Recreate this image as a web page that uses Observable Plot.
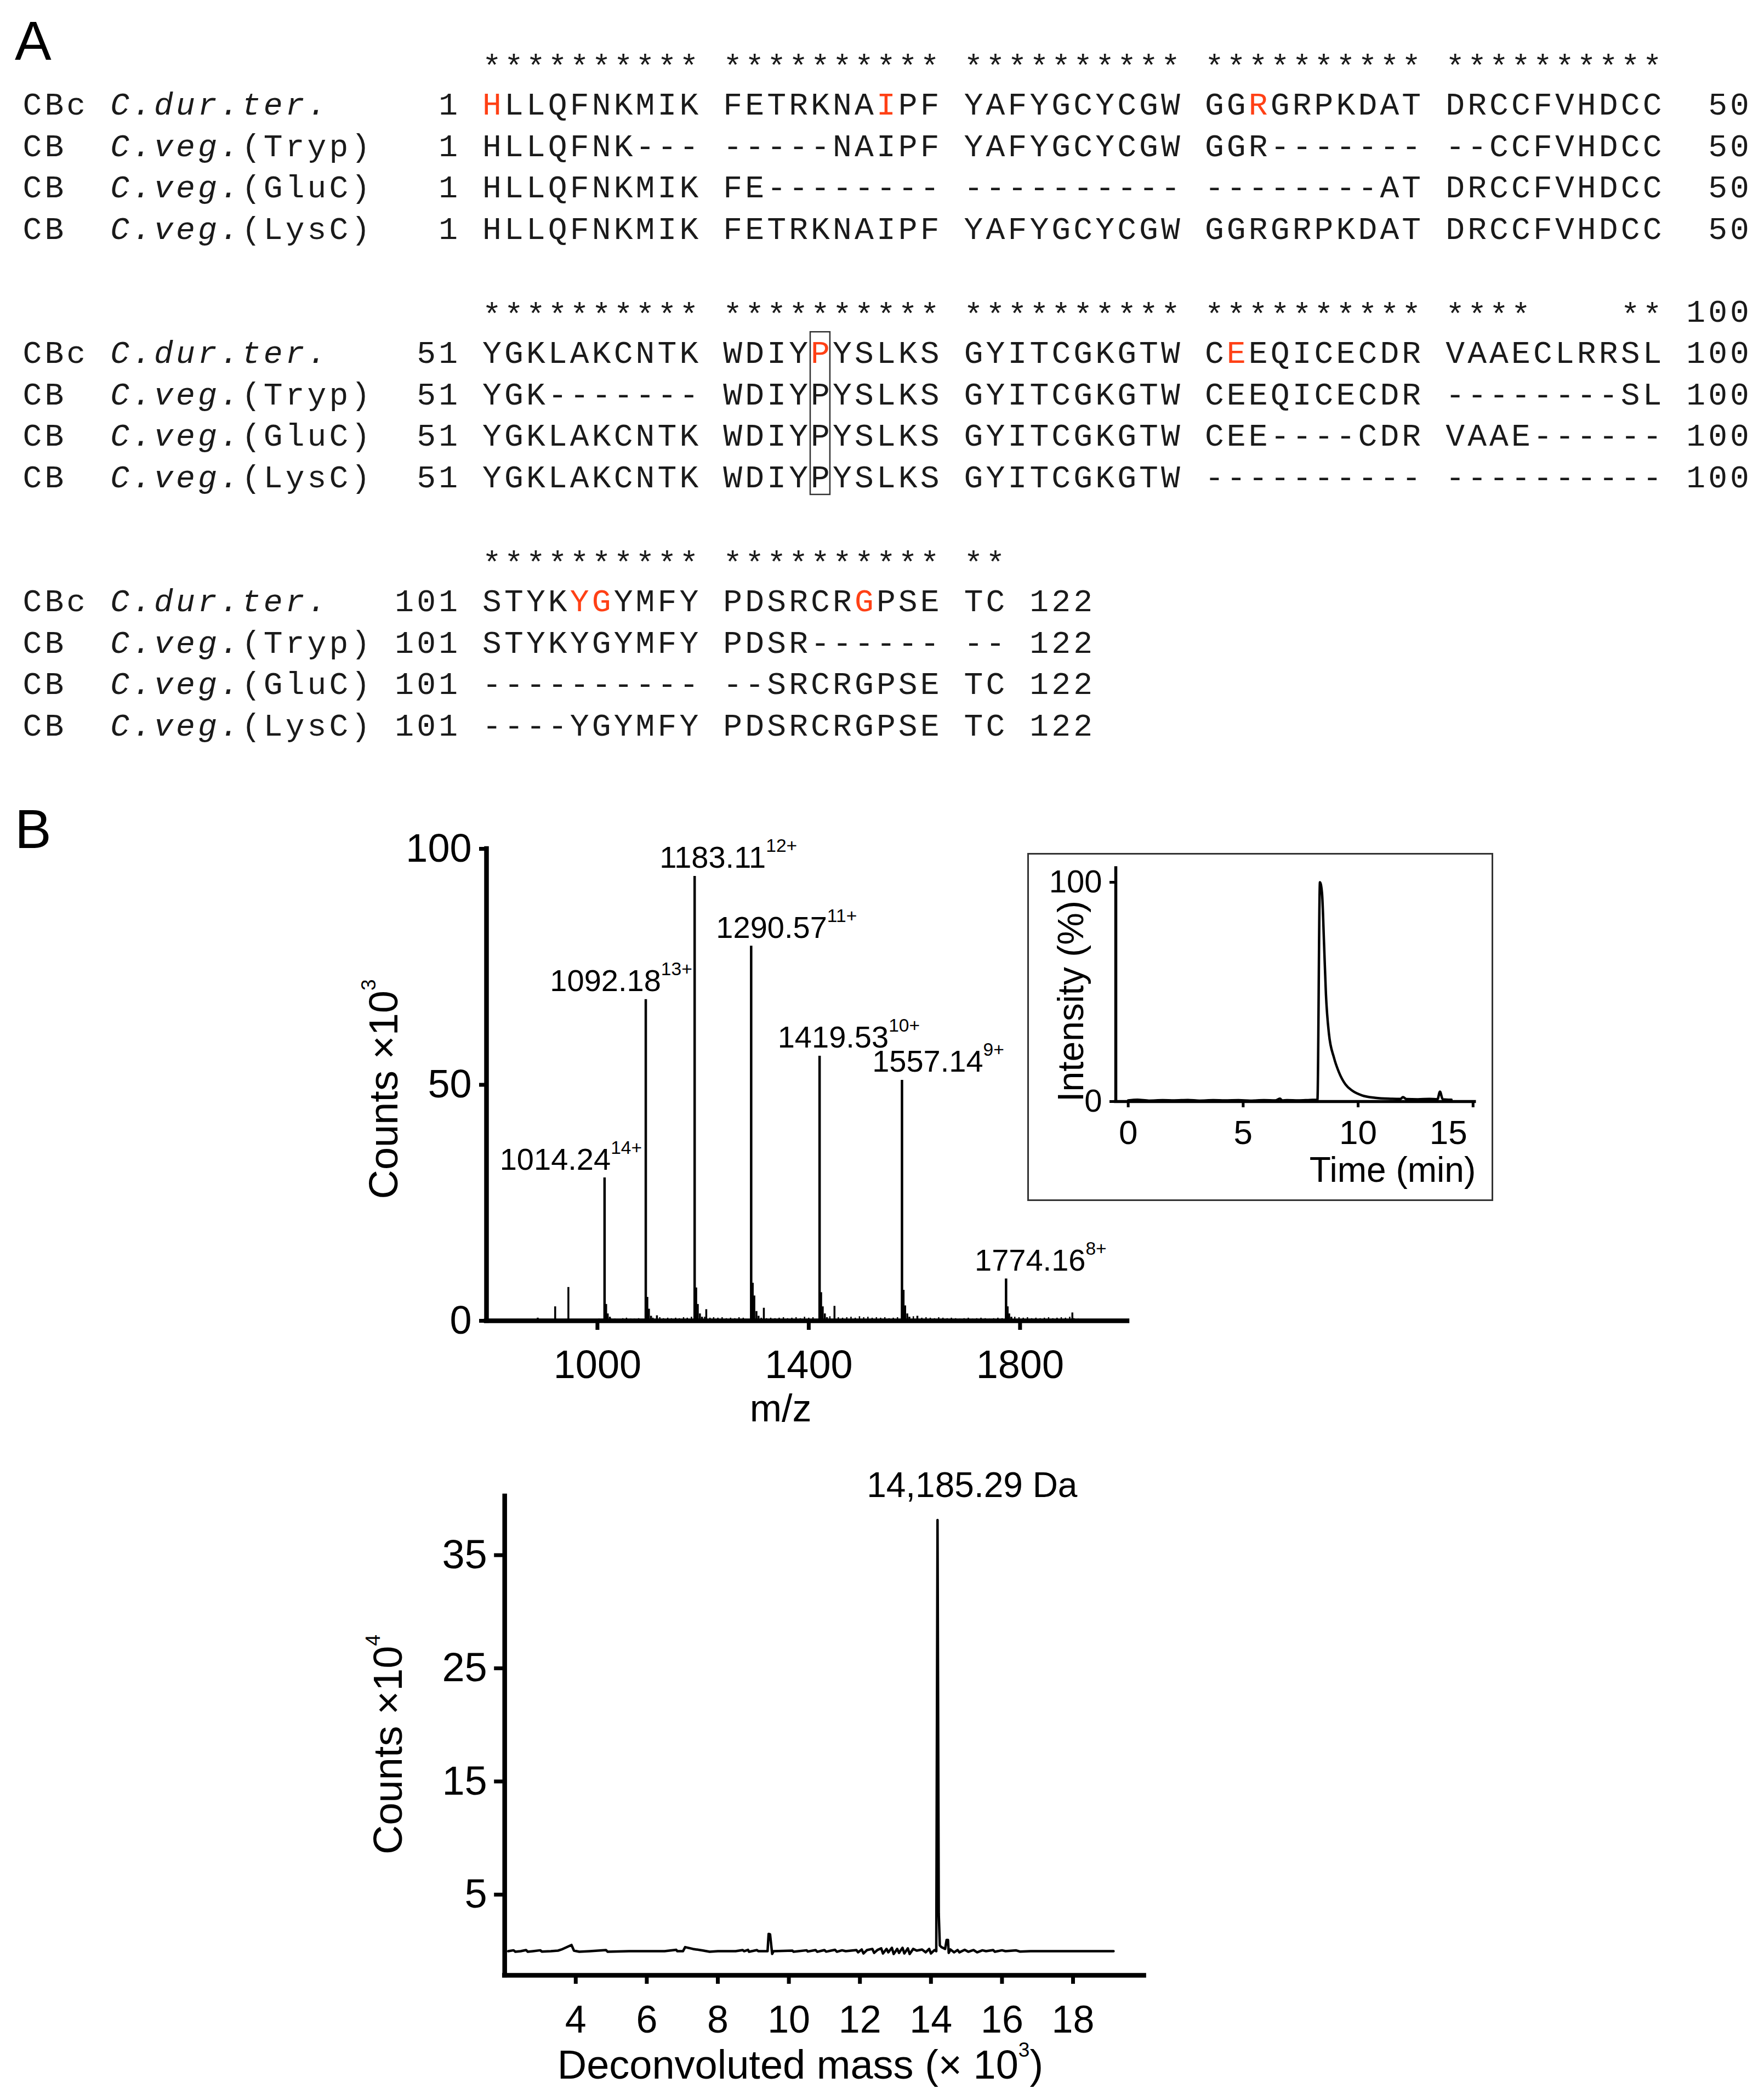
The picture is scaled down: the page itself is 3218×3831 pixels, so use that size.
<!DOCTYPE html>
<html>
<head>
<meta charset="utf-8">
<script src="https://cdn.jsdelivr.net/npm/d3@7"></script>
<script src="https://cdn.jsdelivr.net/npm/@observablehq/plot@0.6"></script>
<style>
html, body { margin: 0; padding: 0; background: #fff; }
#page { position: relative; width: 3218px; height: 3831px; background: #fff; overflow: hidden; }
.panel { position: absolute; }
.panel svg { display: block; overflow: visible; }
.tag { position: absolute; font-family: 'Liberation Sans', Arial, Helvetica, sans-serif; font-size: 100px; line-height: 100px; color: #000; }
.inset-box { position: absolute; box-sizing: border-box; border: 3px solid #333; pointer-events: none; }
</style>
</head>
<body>
<div id="page"></div>
<script>
// ================= DATA =================
// ---- Panel A: sequence alignment ----
const rowPrefix = ["CBc", "CB", "CB", "CB"];
const rowSpecies = ["C.dur.ter.", "C.veg.", "C.veg.", "C.veg."];
const rowEnzyme = ["", "(Tryp)", "(GluC)", "(LysC)"];
const blockStart = [1, 51, 101];
const blockEnd = [50, 100, 122];
const consensus = [
  "********** ********** ********** ********** **********",
  "********** ********** ********** ********** ****    **",
  "********** ********** **"
];
const consensusEnd = ["", "100", ""];
const blockSeqs = [
  ["HLLQFNKMIK FETRKNAIPF YAFYGCYCGW GGRGRPKDAT DRCCFVHDCC",
   "HLLQFNK--- -----NAIPF YAFYGCYCGW GGR------- --CCFVHDCC",
   "HLLQFNKMIK FE-------- ---------- --------AT DRCCFVHDCC",
   "HLLQFNKMIK FETRKNAIPF YAFYGCYCGW GGRGRPKDAT DRCCFVHDCC"],
  ["YGKLAKCNTK WDIYPYSLKS GYITCGKGTW CEEQICECDR VAAECLRRSL",
   "YGK------- WDIYPYSLKS GYITCGKGTW CEEQICECDR --------SL",
   "YGKLAKCNTK WDIYPYSLKS GYITCGKGTW CEE----CDR VAAE------",
   "YGKLAKCNTK WDIYPYSLKS GYITCGKGTW ---------- ----------"],
  ["STYKYGYMFY PDSRCRGPSE TC",
   "STYKYGYMFY PDSR------ --",
   "---------- --SRCRGPSE TC",
   "----YGYMFY PDSRCRGPSE TC"]
];
const redResidues = [1, 18, 33, 65, 82, 105, 106, 117];
const boxedResidue = 65;

// ---- Panel B top: ESI spectrum (m/z, counts x10^3) ----
const peakLabel = ["1014.24", "1092.18", "1183.11", "1290.57", "1419.53", "1557.14", "1774.16"];
const peakCharge = ["14+", "13+", "12+", "11+", "10+", "9+", "8+"];
const peakMz = [1013.5, 1091.5, 1184, 1291, 1420.5, 1576.5, 1773.5]; // drawn positions
const peakCounts = [30.3, 68.1, 94.2, 79.4, 56.1, 51.0, 8.9];
const minorMz = [887, 920, 945, 1016.5, 1019.5, 1023.5, 1094.5, 1097.5, 1101.5, 1112.6,
  1187, 1190, 1194, 1198, 1206, 1294, 1297, 1301, 1305, 1315,
  1423.5, 1426.5, 1430.5, 1434.5, 1448.7, 1579.5, 1582.5, 1586.5, 1590.5, 1605.6,
  1776.5, 1779.5, 1783.5, 1899];
const minorCounts = [0.6, 3.0, 7.1, 3.5, 1.5, 0.8, 5, 2.5, 1, 1.1,
  7, 3.5, 1.5, 0.8, 2.4, 8, 5.3, 2, 1, 2.7,
  6, 3, 1.5, 0.7, 3.1, 6.5, 3.2, 1.5, 0.8, 1.0,
  3, 1.5, 0.8, 1.7];
const noiseMz = [1003, 1010, 1025, 1033, 1040, 1048, 1055, 1063, 1070, 1078,
  1105, 1118, 1125, 1133, 1140, 1148, 1155, 1163, 1170, 1178,
  1203, 1213, 1220, 1228, 1236, 1244, 1252, 1260, 1268, 1276,
  1310, 1320, 1328, 1336, 1344, 1352, 1360, 1368, 1376, 1384,
  1392, 1400, 1408, 1440, 1456, 1464, 1472, 1480, 1488, 1496,
  1504, 1512, 1520, 1528, 1536, 1544, 1552, 1560, 1568, 1598,
  1614, 1622, 1630, 1638, 1646, 1654, 1662, 1670, 1678, 1686,
  1694, 1702, 1710, 1718, 1726, 1734, 1742, 1750, 1758, 1766,
  1790, 1798, 1806, 1814, 1822, 1830, 1838, 1846, 1854, 1862,
  1870, 1878, 1886, 1894, 1902, 1910];
const noiseCounts = [0.4, 0.3, 0.5, 0.4, 0.3, 0.5, 0.6, 0.4, 0.4, 0.5,
  0.6, 0.7, 0.5, 0.6, 0.5, 0.6, 0.5, 0.7, 0.6, 0.8,
  0.8, 0.6, 0.7, 0.6, 0.7, 0.5, 0.6, 0.5, 0.7, 0.6,
  0.6, 0.5, 0.6, 0.5, 0.6, 0.7, 0.5, 0.6, 0.7, 0.5,
  0.8, 0.6, 0.7, 0.9, 0.7, 0.6, 0.7, 0.8, 0.6, 0.9,
  0.7, 0.8, 0.6, 0.7, 0.6, 0.7, 0.5, 0.6, 0.7, 0.9,
  0.6, 0.7, 0.6, 0.5, 0.7, 0.6, 0.5, 0.6, 0.5, 0.4,
  0.5, 0.6, 0.4, 0.5, 0.6, 0.5, 0.4, 0.5, 0.6, 0.5,
  0.8, 0.7, 0.6, 0.7, 0.5, 0.6, 0.5, 0.6, 0.7, 0.5,
  0.6, 0.7, 0.6, 0.8, 0.5, 0.4];
const msXTicks = [1000, 1400, 1800];
const msYTicks = [0, 50, 100];

// ---- Inset: chromatogram (min, %) ----
const chromTime = [0, 0.4, 0.9, 1.5, 2.0, 2.6, 3.1, 3.7, 4.2, 4.8, 5.3, 5.9, 6.4, 6.6, 6.7, 6.9, 7.4, 7.9, 8.23, 8.34, 8.43, 8.52, 8.60, 8.73, 8.95, 9.16, 9.45, 9.74, 10.17, 10.75, 11.3, 11.85, 11.95, 12.1, 12.6, 13.1, 13.45, 13.56, 13.68, 14.06];
const chromIntensity = [0.5, 0.8, 0.4, 0.6, 0.5, 0.7, 0.4, 0.6, 0.5, 0.6, 0.4, 0.6, 0.5, 1.3, 0.5, 0.6, 0.5, 0.7, 0.8, 100, 95, 71.5, 49, 31, 20, 13.5, 7.8, 5.0, 2.8, 1.7, 1.3, 1.2, 2.0, 1.1, 1.0, 1.2, 1.0, 4.5, 1.0, 0.8];
const chromXTicks = [0, 5, 10, 15];
const chromYTicks = [0, 100];

// ---- Panel B bottom: deconvoluted spectrum (mass x10^3, counts x10^4) ----
const deconvMass = [2.1, 2.25, 2.3, 2.45, 2.6, 2.65, 2.8, 3.0, 3.05, 3.3,
  3.5, 3.6, 3.88, 3.95, 4.1, 4.4, 4.85, 4.9, 5.5, 6.0,
  6.5, 6.83, 6.86, 7.02, 7.08, 7.3, 7.6, 7.77, 8.0, 8.5,
  8.7, 8.74, 8.85, 8.88, 9.1, 9.14, 9.4, 9.43, 9.47, 9.53,
  9.57, 10.1, 10.13, 10.5, 10.53, 10.75, 10.8, 11.0, 11.05, 11.3,
  11.35, 11.5, 11.6, 11.9, 11.95, 12.05, 12.1, 12.2, 12.35, 12.4,
  12.5, 12.6, 12.65, 12.75, 12.8, 12.9, 12.95, 13.05, 13.1, 13.2,
  13.25, 13.35, 13.4, 13.5, 13.6, 13.75, 13.85, 13.95, 14.0, 14.1,
  14.15, 14.185, 14.22, 14.25, 14.3, 14.4, 14.44, 14.48, 14.5, 14.55,
  14.65, 14.75, 14.8, 14.95, 15.05, 15.2, 15.3, 15.45, 15.55, 15.75,
  15.8, 16.0, 16.1, 16.4, 16.5, 16.8, 17.5, 18.5, 19.14];
const deconvCounts = [0, 0.08, -0.05, 0, 0.1, -0.05, 0, 0.08, -0.04, 0,
  0.05, 0.15, 0.55, 0.05, -0.05, 0, 0.1, -0.05, 0, 0,
  0, 0.12, 0, 0, 0.36, 0.2, 0.05, -0.05, 0, 0,
  0.1, 0, 0.12, -0.05, 0.1, 0, 0, 1.53, 1.5, -0.24,
  0, 0.05, -0.05, 0.08, -0.03, 0.1, -0.05, 0.1, -0.04, 0.12,
  -0.05, 0.08, 0, 0.1, -0.1, 0.15, -0.2, 0.1, 0.2, -0.15,
  0.12, 0.25, -0.2, 0.2, -0.1, 0.3, -0.25, 0.2, -0.15, 0.3,
  -0.2, 0.25, -0.25, 0.2, 0.05, 0.15, -0.1, 0.2, -0.2, 0.1,
  0, 38.1, 3.3, 0.5, 0.35, 0.2, 0.99, 0.99, -0.15, 0.15,
  -0.1, 0.1, -0.1, 0.12, -0.05, 0.1, -0.1, 0.08, 0, 0.1,
  -0.05, 0.08, 0, 0.07, -0.03, 0, 0, 0, 0];
const deconvPeakMass = 14.185;
const deconvPeakCounts = 38.1;
const deconvLabel = "14,185.29 Da";
const deconvXTicks = [4, 6, 8, 10, 12, 14, 16, 18];
const deconvYTicks = [5, 15, 25, 35];

// ================= STYLE =================
const SANS = "'Liberation Sans', Arial, Helvetica, sans-serif";
const MONO = "'Liberation Mono', 'Courier New', monospace";
const RED = "#ff4015";
const labelShiftMz = [-63.8, -46.7, 63.8, 66.9, 55.3, 68.5, 65.4]; // label nudges (m/z units)

const page = document.getElementById("page");
function place(node, left, top) {
  const wrap = document.createElement("div");
  wrap.className = "panel";
  wrap.style.left = left + "px";
  wrap.style.top = top + "px";
  wrap.appendChild(node);
  page.appendChild(wrap);
  return wrap;
}
function tag(text, left, top) {
  const d = document.createElement("div");
  d.className = "tag";
  d.style.left = left + "px";
  d.style.top = top + "px";
  d.textContent = text;
  page.appendChild(d);
}
// turn "abc^{sup}def" into tspans
function applySup(svg) {
  svg.querySelectorAll("text").forEach(el => {
    const s = el.textContent;
    if (!s.includes("^{")) return;
    const fs = parseFloat(getComputedStyle(el).fontSize);
    const big = fs >= 60;
    const ratio = big ? 0.5 : 0.6;
    const shift = (big ? 0.54 : 0.52) * fs;
    const parts = s.split(/(\^\{[^}]*\})/);
    const sel = d3.select(el);
    sel.text(null);
    let raised = false;
    parts.forEach(p => {
      if (!p) return;
      const m = p.match(/^\^\{(.*)\}$/);
      if (m) {
        sel.append("tspan").attr("font-size", fs * ratio).attr("dy", -shift).text(m[1]);
        raised = true;
      } else {
        const t = sel.append("tspan").text(p);
        if (raised) { t.attr("dy", shift); raised = false; }
      }
    });
  });
}

// ================= PANEL A =================
const rows = [];
blockSeqs.forEach((seqs, b) => seqs.forEach((seq, r) => rows.push({
  b, r, line: b * 6 + 1 + r,
  prefix: rowPrefix[r], species: rowSpecies[r], enzyme: rowEnzyme[r],
  start: String(blockStart[b]), end: String(blockEnd[b]), seq
})));
const refRows = rows.filter(d => d.r === 0);
const otherRows = rows.filter(d => d.r !== 0);
const stars = consensus.map((s, b) => ({b, line: b * 6, seq: s, end: consensusEnd[b]}));
function residueCol(res) {
  const b = blockStart.findIndex((s, i) => res >= s && res <= blockEnd[i]);
  const i = res - blockStart[b];
  return {b, col: 21 + i + Math.floor(i / 10)};
}
const box = [boxedResidue].map(residueCol);

const txt = {textAnchor: "start", lineAnchor: "middle", dx: 2.5};
const align = Plot.plot({
  width: 3218, height: 1400,
  marginLeft: 38.5, marginRight: 25, marginTop: 190, marginBottom: 77.5,
  x: {domain: [0, 79], axis: null},
  y: {domain: [1, 16], reverse: true, axis: null},
  style: {fontFamily: MONO, fontSize: "58px", letterSpacing: "5.13px", whiteSpace: "pre", color: "#1a1a1a", background: "transparent", overflow: "visible"},
  marks: [
    Plot.text(stars, {...txt, x: 21, y: "line", text: "seq", dy: 6}),
    Plot.text(stars.filter(d => d.end), {...txt, x: d => 21 + d.seq.length + 1 + 3 - d.end.length, y: "line", text: "end"}),
    Plot.text(rows, {...txt, x: 0, y: "line", text: "prefix"}),
    Plot.text(rows, {...txt, x: 4, y: "line", text: "species", fontStyle: "italic"}),
    Plot.text(rows.filter(d => d.enzyme), {...txt, x: d => 4 + d.species.length, y: "line", text: "enzyme"}),
    Plot.text(rows, {...txt, x: d => 20 - d.start.length, y: "line", text: "start"}),
    Plot.text(otherRows, {...txt, x: 21, y: "line", text: "seq"}),
    Plot.text(refRows, {...txt, x: 21, y: "line", text: "seq", className: "ref-seq"}),
    Plot.text(rows, {...txt, x: d => 21 + d.seq.length + 1 + 3 - d.end.length, y: "line", text: "end"}),
    Plot.rect(box, {x1: d => d.col + 0.05, x2: d => d.col + 0.95, y1: d => d.b * 6 + 1 - 0.5, y2: d => d.b * 6 + 4 + 0.43, fill: "none", stroke: "#333", strokeWidth: 2.5})
  ]
});
place(align, 0, 0);
// colour the highlighted residues of the reference (C.dur.ter.) rows
{
  let refTexts = Array.from(align.querySelectorAll("g.ref-seq text"));
  if (refTexts.length !== refRows.length) {
    // fallback: first text of each block whose content is the reference sequence
    const done = new Set();
    refTexts = [];
    align.querySelectorAll("text").forEach(el => {
      const b = blockSeqs.findIndex(seqs => seqs[0] === el.textContent);
      if (b >= 0 && !done.has(b)) { done.add(b); refTexts[b] = el; }
    });
  }
  refTexts.forEach((el, b) => {
    if (!el) return;
    const s = el.textContent;
    const sel = d3.select(el);
    sel.text(null);
    let buf = "", idx = 0;
    const flush = () => { if (buf) { sel.append("tspan").text(buf); buf = ""; } };
    for (const ch of s) {
      if (ch === " ") { buf += ch; continue; }
      const res = blockStart[b] + idx; idx++;
      if (redResidues.includes(res)) { flush(); sel.append("tspan").attr("fill", RED).text(ch); }
      else buf += ch;
    }
    flush();
  });
}
tag("A", 27, 24);

// ================= PANEL B: ESI spectrum =================
const peaks = peakMz.map((mz, i) => ({mz, c: peakCounts[i], label: peakLabel[i], z: peakCharge[i], shift: labelShiftMz[i]}));
const minor = minorMz.map((mz, i) => ({mz, c: minorCounts[i]}));
const noise = noiseMz.map((mz, i) => ({mz, c: noiseCounts[i]}));
const axisW = 8.5;
const ms = Plot.plot({
  width: 1500, height: 1200,
  marginLeft: 287, marginRight: 44, marginTop: 98, marginBottom: 241,
  x: {domain: [790, 2003]},
  y: {domain: [0, 100]},
  style: {fontFamily: SANS, fontSize: "72px", color: "#000", background: "transparent", overflow: "visible"},
  marks: [
    Plot.ruleX(noise, {x: "mz", y1: 0, y2: "c", strokeWidth: 2.5}),
    Plot.ruleX(minor, {x: "mz", y1: 0, y2: "c", strokeWidth: 3.5}),
    Plot.ruleX(peaks, {x: "mz", y1: 0, y2: "c", strokeWidth: 4.5}),
    Plot.ruleY([0], {strokeWidth: axisW, strokeLinecap: "square"}),
    Plot.ruleX([790], {y1: 0, y2: 100, strokeWidth: axisW, strokeLinecap: "square"}),
    Plot.axisX({ticks: msXTicks, tickSize: 17, tickPadding: 36, strokeWidth: 7, fontSize: 72, label: null, tickFormat: d => String(d)}),
    Plot.axisY({ticks: msYTicks, tickSize: 13, tickPadding: 14, strokeWidth: 7, fontSize: 72, label: null, tickFormat: d => String(d)}),
    Plot.text(peaks, {x: d => d.mz + d.shift, y: "c", text: d => d.label + "^{" + d.z + "}", textAnchor: "middle", lineAnchor: "bottom", dy: -15, fontSize: 56}),
    Plot.text(["m/z"], {frameAnchor: "bottom", dx: -48, dy: 183, lineAnchor: "bottom", fontSize: 70}),
    Plot.text(["Counts ×10^{3}"], {frameAnchor: "left", rotate: -90, dx: -186, dy: 8, textAnchor: "middle", lineAnchor: "middle", fontSize: 74})
  ]
});
place(ms, 600, 1450);
applySup(ms);

// ================= Inset chromatogram =================
const chrom = chromTime.map((t, i) => ({t, v: chromIntensity[i]}));
const chromPlot = Plot.plot({
  width: 850, height: 635,
  marginLeft: 161, marginRight: 34.3, marginTop: 27, marginBottom: 182,
  x: {domain: [-0.54, 15.07]},
  y: {domain: [0, 106.5]},
  style: {fontFamily: SANS, fontSize: "60px", color: "#000", background: "#fff", overflow: "visible"},
  marks: [
    Plot.line(chrom, {x: "t", y: "v", strokeWidth: 4.5, curve: "monotone-x"}),
    Plot.ruleY([0], {strokeWidth: 5.5, strokeLinecap: "square"}),
    Plot.ruleX([-0.54], {strokeWidth: 5.5, strokeLinecap: "square"}),
    Plot.axisX({ticks: chromXTicks, tickSize: 11, tickPadding: 22, strokeWidth: 5, fontSize: 62, label: null, tickFormat: d => d === 15 ? "" : String(d)}),
    Plot.axisX({ticks: chromXTicks.filter(d => d === 15), tickSize: 0, tickPadding: 33, dx: -45, fontSize: 62, label: null, tickFormat: d => String(d)}),
    Plot.axisY({ticks: chromYTicks, tickSize: 11, tickPadding: 14, strokeWidth: 5, fontSize: 58, label: null, tickFormat: d => String(d)}),
    Plot.text(["Intensity (%)"], {frameAnchor: "left", rotate: -90, dx: -81, dy: 30, textAnchor: "middle", lineAnchor: "middle", fontSize: 66}),
    Plot.text(["Time (min)"], {frameAnchor: "bottom-right", dx: 2, dy: 146, textAnchor: "end", lineAnchor: "bottom", fontSize: 64})
  ]
});
place(chromPlot, 1874, 1556);
const ib = document.createElement("div");
ib.className = "inset-box";
Object.assign(ib.style, {left: "1874px", top: "1556px", width: "850px", height: "635px"});
page.appendChild(ib);

// ================= Deconvoluted spectrum =================
const deconv = deconvMass.map((m, i) => ({m, c: deconvCounts[i]}));
const dc = Plot.plot({
  width: 1550, height: 1181,
  marginLeft: 320.2, marginRight: 63.4, marginTop: 79, marginBottom: 228,
  x: {domain: [2, 20]},
  y: {domain: [-2.13, 40.21]},
  style: {fontFamily: SANS, fontSize: "72px", color: "#000", background: "transparent", overflow: "visible"},
  marks: [
    Plot.line(deconv, {x: "m", y: "c", strokeWidth: 4.5}),
    Plot.ruleY([-2.13], {strokeWidth: axisW, strokeLinecap: "square"}),
    Plot.ruleX([2], {strokeWidth: axisW, strokeLinecap: "square"}),
    Plot.axisX({ticks: deconvXTicks, tickSize: 16, tickPadding: 39, strokeWidth: 7, fontSize: 70, label: null, tickFormat: d => String(d)}),
    Plot.axisY({ticks: deconvYTicks, tickSize: 19, tickPadding: 13, strokeWidth: 7, fontSize: 74, label: null, tickFormat: d => String(d)}),
    Plot.text([deconvLabel], {x: deconvPeakMass, y: deconvPeakCounts, dx: 63, dy: -42, textAnchor: "middle", lineAnchor: "bottom", fontSize: 64}),
    Plot.text(["Deconvoluted mass (× 10^{3})"], {frameAnchor: "bottom", dx: -44, dy: 188, lineAnchor: "bottom", fontSize: 74}),
    Plot.text(["Counts ×10^{4}"], {frameAnchor: "left", rotate: -90, dx: -211, dy: 16, textAnchor: "middle", lineAnchor: "middle", fontSize: 74})
  ]
});
place(dc, 600, 2650);
applySup(dc);
tag("B", 27, 1462);
</script>
</body>
</html>
